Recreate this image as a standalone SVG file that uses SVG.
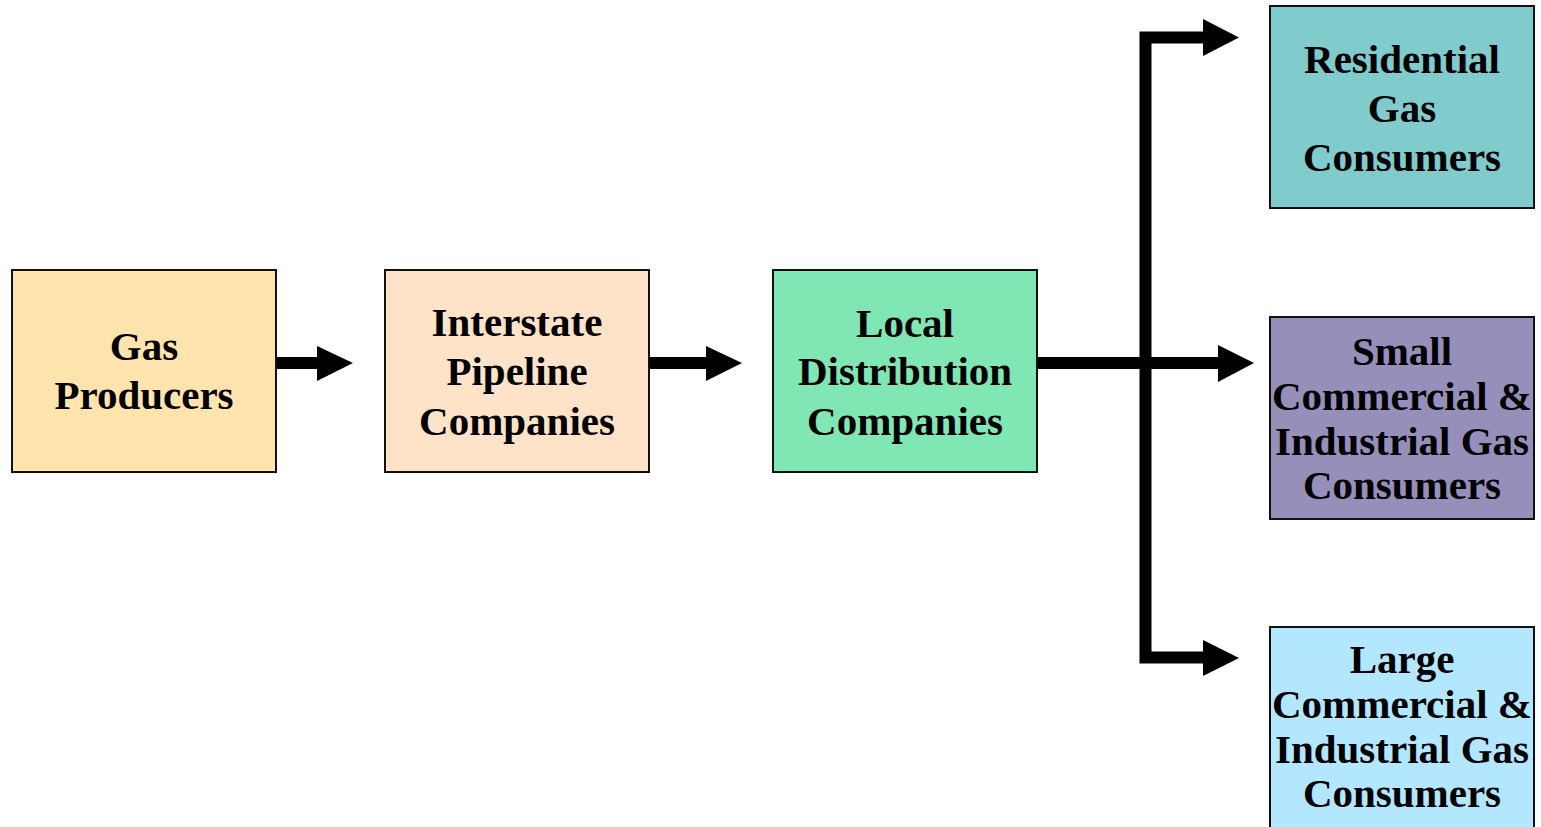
<svg xmlns="http://www.w3.org/2000/svg" width="1541" height="827" viewBox="0 0 1541 827">
  <style>
    .box { stroke: #111; stroke-width: 2; }
    .lbl { font-family: "Liberation Serif", "Times New Roman", serif; font-weight: bold; font-size: 41px; fill: #000; text-anchor: middle; }
    .pipe { fill: none; stroke: #000; stroke-width: 12; stroke-linejoin: miter; }
    .head { fill: #000; }
  </style>

  <!-- flow connectors -->
  <g id="connectors">
    <path class="pipe" d="M276 363 H320"/>
    <polygon class="head" points="317,346 353,363 317,381"/>
    <path class="pipe" d="M649 363 H709"/>
    <polygon class="head" points="706,346 742,363 706,381"/>
    <path class="pipe" d="M1037 363 H1220"/>
    <polygon class="head" points="1218,345 1254,363 1218,382"/>
    <path class="pipe" d="M1206 37.5 H1145.5 V657.5 H1206" stroke-width="11.5"/>
    <polygon class="head" points="1203,19 1239,37.5 1203,56"/>
    <polygon class="head" points="1203,640 1239,658 1203,676"/>
  </g>

  <g id="gas-producers">
    <rect class="box" x="12" y="270" width="264" height="202" fill="#FFE4AD"/>
    <text class="lbl" x="144" y="360">Gas</text>
    <text class="lbl" x="144" y="409">Producers</text>
  </g>

  <g id="interstate-pipelines">
    <rect class="box" x="385" y="270" width="264" height="202" fill="#FFE3C9"/>
    <text class="lbl" x="517" y="336">Interstate</text>
    <text class="lbl" x="517" y="385">Pipeline</text>
    <text class="lbl" x="517" y="435">Companies</text>
  </g>

  <g id="local-distribution">
    <rect class="box" x="773" y="270" width="264" height="202" fill="#80E6B4"/>
    <text class="lbl" x="905" y="337">Local</text>
    <text class="lbl" x="905" y="385">Distribution</text>
    <text class="lbl" x="905" y="435">Companies</text>
  </g>

  <g id="residential">
    <rect class="box" x="1270" y="6" width="264" height="202" fill="#80CBCB"/>
    <text class="lbl" x="1402" y="73">Residential</text>
    <text class="lbl" x="1402" y="122">Gas</text>
    <text class="lbl" x="1402" y="171">Consumers</text>
  </g>

  <g id="small-commercial-industrial">
    <rect class="box" x="1270" y="317" width="264" height="202" fill="#968FBA"/>
    <text class="lbl" x="1402" y="365">Small</text>
    <text class="lbl" x="1402" y="410">Commercial &amp;</text>
    <text class="lbl" x="1402" y="455">Industrial Gas</text>
    <text class="lbl" x="1402" y="499">Consumers</text>
  </g>

  <g id="large-commercial-industrial">
    <rect class="box" x="1270" y="627" width="264" height="220" fill="#B3E6FF"/>
    <text class="lbl" x="1402" y="673">Large</text>
    <text class="lbl" x="1402" y="718">Commercial &amp;</text>
    <text class="lbl" x="1402" y="763">Industrial Gas</text>
    <text class="lbl" x="1402" y="807">Consumers</text>
  </g>
</svg>
